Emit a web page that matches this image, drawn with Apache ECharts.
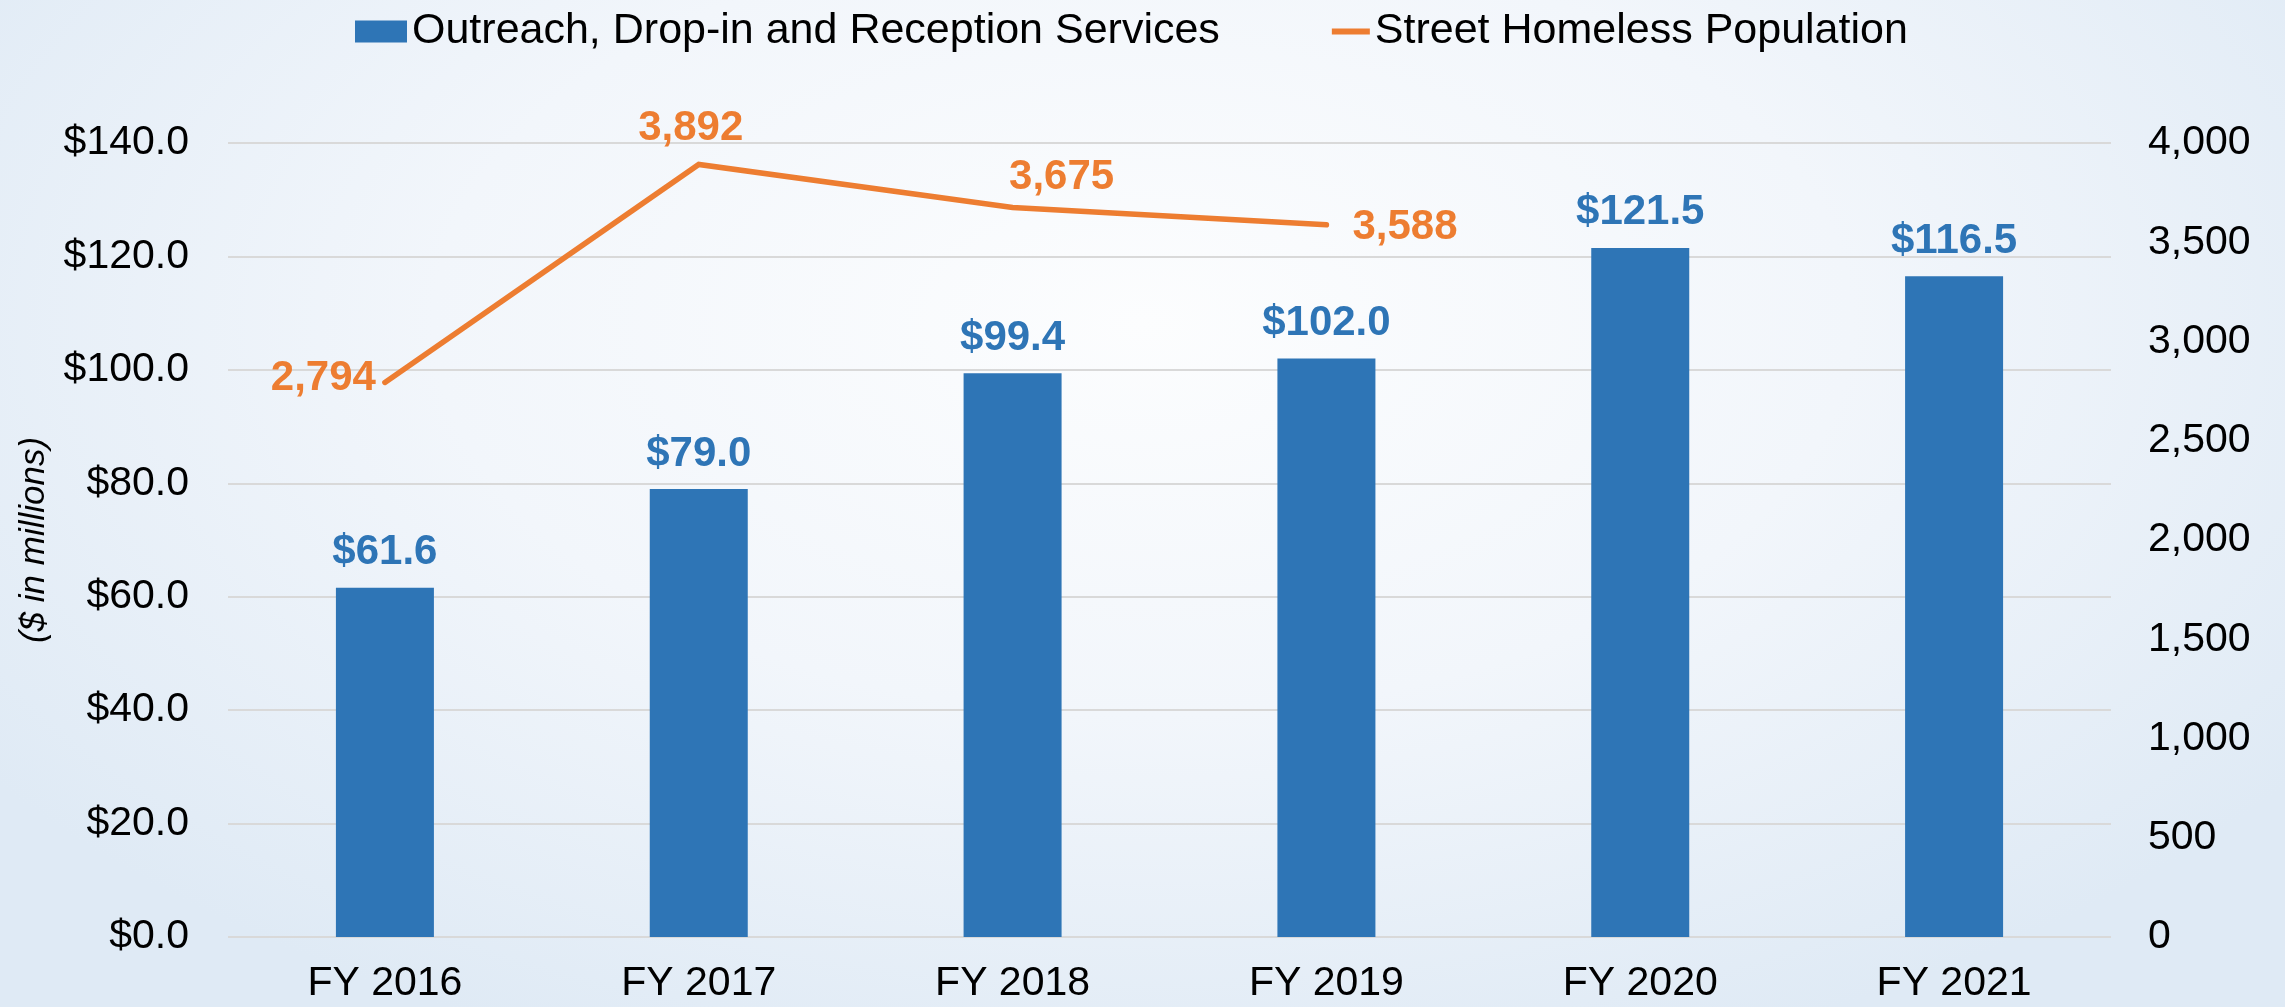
<!DOCTYPE html>
<html>
<head>
<meta charset="utf-8">
<script src="https://cdn.jsdelivr.net/npm/echarts@6/dist/echarts.min.js"></script>
<style>
  html, body { margin: 0; padding: 0; }
  #chart {
    width: 2285px;
    height: 1007px;
    background: radial-gradient(ellipse 62% 78% at 50% 32%, #fcfdfe 0%, #f2f6fb 50%, #dfeaf5 100%);
  }
</style>
</head>
<body>
<div id="chart"></div>
<script>
// data
const categories = ['FY 2016', 'FY 2017', 'FY 2018', 'FY 2019', 'FY 2020', 'FY 2021'];
const spending = [61.6, 79.0, 99.4, 102.0, 121.5, 116.5]; // $ in millions
const homeless = [2794, 3892, 3675, 3588, null, null];

// where each population label sits relative to its point
const homelessLabelPos = ['left', 'top', 'top', 'right'];
const homelessLabelOffset = [[0, -4], [-8, 0], [49, 0], [0, 3]];

const BAR_NAME = 'Outreach, Drop-in and Reception Services';
const LINE_NAME = 'Street Homeless Population';
const BLUE = '#2e75b6';
const ORANGE = '#ed7d31';
const FONT = 'Liberation Sans';

const chart = echarts.init(document.getElementById('chart'));

const lineData = homeless.map((v, i) => ({
  value: v,
  label: {
    position: homelessLabelPos[i] || 'top',
    offset: homelessLabelOffset[i] || [0, 0],
    distance: homelessLabelPos[i] === 'right' ? 25 : (i === 1 ? 14 : 8),
  },
}));

chart.setOption({
  animation: false,
  textStyle: { fontFamily: FONT },
  legend: {
    left: 350,
    top: 5,
    itemWidth: 52,
    itemHeight: 22,
    itemGap: 98,
    textStyle: { fontSize: 43, color: '#000', fontFamily: FONT },
    data: [
      { name: BAR_NAME, icon: 'rect' },
      // dash with invisible corner specks so the icon box stays 52x22
      { name: LINE_NAME, icon: 'path://M0,0h0.1v0.1h-0.1z M51.9,21.9h0.1v0.1h-0.1z M14,8h38v6h-38z' },
    ],
  },
  grid: { left: 228, right: 174, top: 143, bottom: 70 },
  xAxis: {
    type: 'category',
    data: categories,
    axisLine: { show: false },
    axisTick: { show: false },
    axisLabel: { fontSize: 41, color: '#000', margin: 26, fontFamily: FONT },
  },
  yAxis: [
    {
      type: 'value',
      min: 0,
      max: 140,
      interval: 20,
      name: '($ in millions)',
      nameLocation: 'middle',
      nameGap: 176,
      nameTextStyle: { fontSize: 35, fontStyle: 'italic', color: '#000', fontFamily: FONT },
      axisLabel: {
        fontSize: 41,
        color: '#000',
        margin: 39,
        fontFamily: FONT,
        formatter: (v) => '$' + v.toFixed(1),
      },
      splitLine: { lineStyle: { color: '#d9d9d9', width: 2 } },
    },
    {
      type: 'value',
      min: 0,
      max: 4000,
      interval: 500,
      axisLabel: {
        fontSize: 41,
        color: '#000',
        margin: 37,
        fontFamily: FONT,
        formatter: (v) => v.toLocaleString('en-US'),
      },
      splitLine: { show: false },
    },
  ],
  series: [
    {
      name: BAR_NAME,
      type: 'bar',
      data: spending,
      barWidth: 98,
      itemStyle: { color: BLUE },
      label: {
        show: true,
        position: 'top',
        distance: 14,
        color: BLUE,
        fontSize: 42,
        fontWeight: 'bold',
        fontFamily: FONT,
        formatter: (p) => '$' + p.value.toFixed(1),
      },
    },
    {
      name: LINE_NAME,
      type: 'line',
      yAxisIndex: 1,
      data: lineData,
      symbol: 'circle',
      symbolSize: 2,
      itemStyle: { color: ORANGE },
      lineStyle: { color: ORANGE, width: 5.5, cap: 'round', join: 'miter' },
      label: {
        show: true,
        color: ORANGE,
        fontSize: 42,
        fontWeight: 'bold',
        fontFamily: FONT,
        formatter: (p) => (p.value == null ? '' : p.value.toLocaleString('en-US')),
      },
    },
  ],
});
</script>
</body>
</html>
